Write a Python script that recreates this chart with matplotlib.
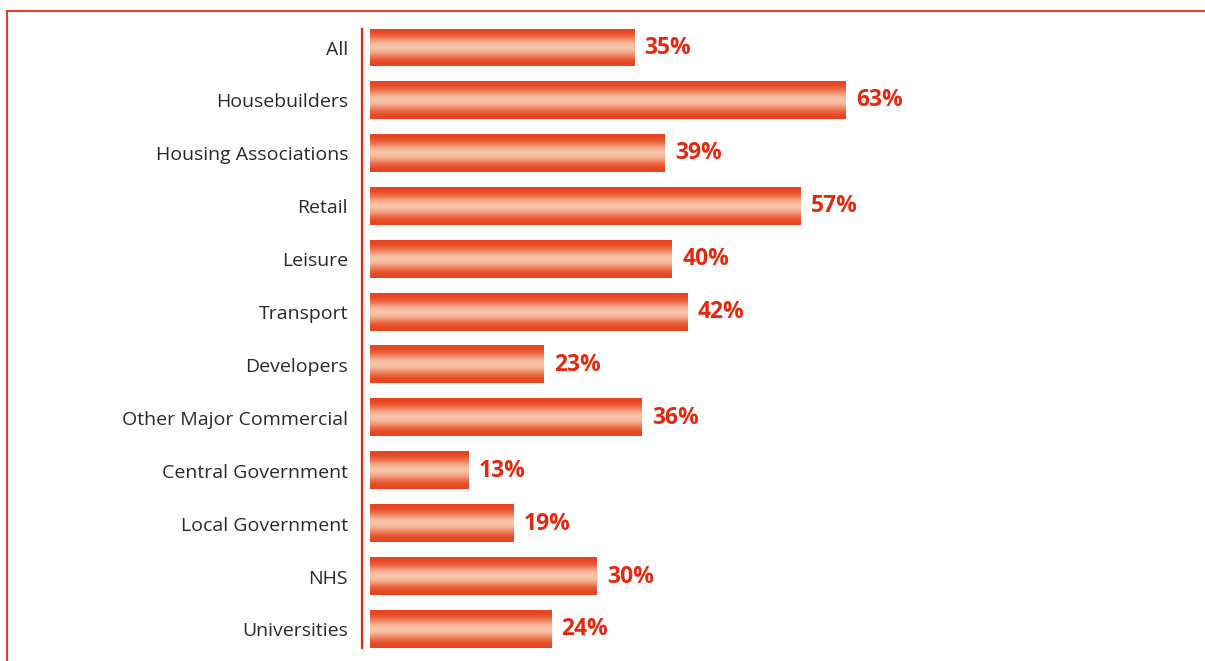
import numpy as np
import matplotlib.pyplot as plt
from matplotlib.colors import to_rgb
from matplotlib.lines import Line2D

categories = ["All", "Housebuilders", "Housing Associations", "Retail", "Leisure",
              "Transport", "Developers", "Other Major Commercial", "Central Government",
              "Local Government", "NHS", "Universities"]
values = [35, 63, 39, 57, 40, 42, 23, 36, 13, 19, 30, 24]

RED = "#e8280e"
EDGE = np.array(to_rgb("#e6441e"))
MID = np.array(to_rgb("#f8c4a8"))

W, H = 1205, 661
fig = plt.figure(figsize=(W / 100, H / 100), dpi=100)

bar_h = 0.70
n = len(categories)
ax = fig.add_axes([362 / W, 1 - 648 / H, (W - 362) / W, (648 - 29) / H])
ax.set_xlim(-8 / 7.55, -8 / 7.55 + (W - 362) / 7.55)

# vertical gradient used to fill each bar
t = np.linspace(-1, 1, 200)
w = np.cos(np.pi / 2 * t) ** 2.6
grad = EDGE[None, :] * (1 - w[:, None]) + MID[None, :] * w[:, None]
grad = grad[:, None, :]

for i, v in enumerate(values):
    ax.imshow(grad, extent=(0, v, i + bar_h / 2, i - bar_h / 2),
              aspect="auto", interpolation="bilinear", zorder=2)
    ax.annotate(f"{v}%", (v, i), xytext=(7.5, 0), textcoords="offset points",
                va="center", ha="left", color=RED, fontsize=16.5,
                fontweight="bold", family="Open Sans")

ax.set_yticks(range(n))
ax.set_yticklabels(categories, fontsize=14, family="Open Sans", color="#2a2a2a")
ax.tick_params(axis="y", length=0, pad=10)
ax.set_xticks([])
ax.set_ylim(n - 1 + bar_h / 2, -bar_h / 2)
for s in ["top", "right", "bottom"]:
    ax.spines[s].set_visible(False)
ax.spines["left"].set_color(RED)
ax.spines["left"].set_linewidth(1.6)

# outer frame lines
fig.add_artist(Line2D([7.5 / W, 1], [1 - 10.5 / H, 1 - 10.5 / H],
                      transform=fig.transFigure, color=RED, lw=1.3))
fig.add_artist(Line2D([7.5 / W, 7.5 / W], [1 - 10.5 / H, 0],
                      transform=fig.transFigure, color=RED, lw=1.3))

fig.savefig("out.png", dpi=100)
